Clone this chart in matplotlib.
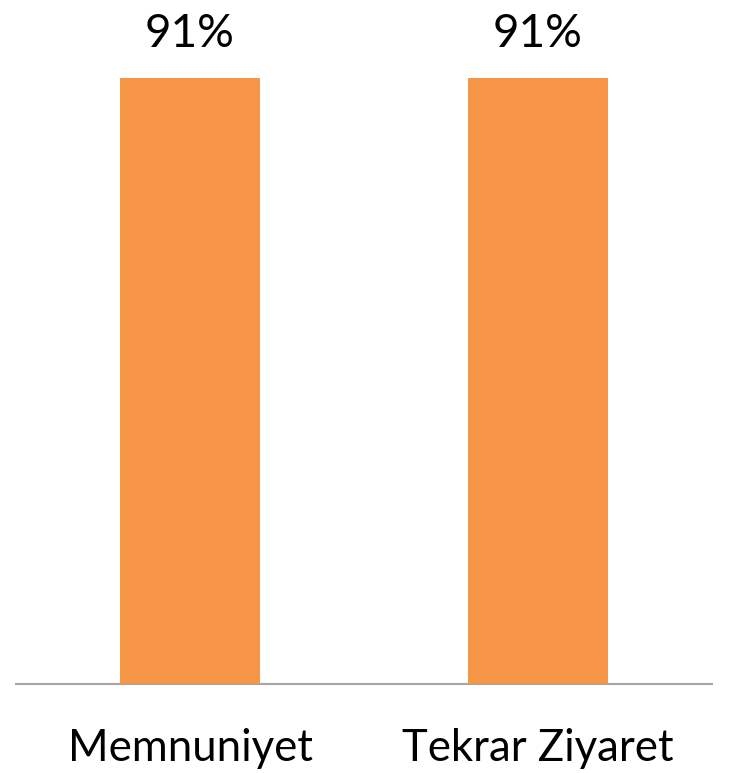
import matplotlib.pyplot as plt

categories = ["Memnuniyet", "Tekrar Ziyaret"]
values = [91, 91]
labels = ["91%", "91%"]

plt.rcParams['font.family'] = ['Lato', 'DejaVu Sans']

fig = plt.figure(figsize=(7.29, 7.73), dpi=100)
ax = fig.add_axes([16/729, 1 - 684/773, 696/729, 666/773])

bars = ax.bar(range(len(categories)), values, width=0.40, color='#F79646')
ax.set_xlim(-0.5, 1.5)
ax.set_ylim(0, 100)

for b, lab in zip(bars, labels):
    ax.text(b.get_x() + b.get_width()/2, b.get_height() + 3.5, lab,
            ha='center', va='bottom', fontsize=33)

ax.set_xticks(range(len(categories)))
ax.set_xticklabels(categories, fontsize=31.5)
ax.tick_params(axis='x', length=0, pad=32)
ax.set_yticks([])
for s in ['top', 'right', 'left']:
    ax.spines[s].set_visible(False)
ax.spines['bottom'].set_color('#A6A6A6')
ax.spines['bottom'].set_linewidth(1.5)

fig.savefig("out.png", dpi=100)
